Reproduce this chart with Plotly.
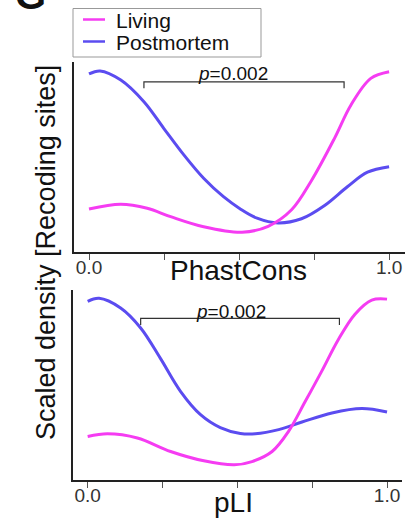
import plotly.graph_objects as go

# ---- data ----
phast_x_post = [0.0, 0.037, 0.106, 0.183, 0.249, 0.316, 0.382, 0.448, 0.503, 0.560, 0.630, 0.708, 0.785, 0.862, 0.928, 1.0]
phast_y_post = [0.937, 0.953, 0.905, 0.791, 0.651, 0.511, 0.388, 0.291, 0.228, 0.178, 0.153, 0.175, 0.245, 0.345, 0.420, 0.449]
phast_x_liv = [0.0, 0.106, 0.194, 0.272, 0.382, 0.510, 0.597, 0.675, 0.741, 0.818, 0.873, 0.939, 1.0]
phast_y_liv = [0.226, 0.251, 0.230, 0.186, 0.133, 0.104, 0.135, 0.222, 0.375, 0.598, 0.774, 0.914, 0.949]

pli_x_post = [0.0, 0.038, 0.110, 0.177, 0.243, 0.310, 0.377, 0.443, 0.510, 0.560, 0.638, 0.716, 0.816, 0.916, 1.0]
pli_y_post = [0.940, 0.956, 0.905, 0.800, 0.640, 0.467, 0.344, 0.276, 0.245, 0.243, 0.265, 0.305, 0.353, 0.376, 0.358]
pli_x_liv = [0.0, 0.066, 0.166, 0.277, 0.388, 0.490, 0.549, 0.616, 0.671, 0.727, 0.782, 0.838, 0.893, 0.949, 1.0]
pli_y_liv = [0.229, 0.243, 0.221, 0.150, 0.101, 0.080, 0.097, 0.150, 0.256, 0.414, 0.573, 0.741, 0.873, 0.947, 0.952]

tick_vals = [0, 0.25, 0.5, 0.75, 1.0]
tick_text = ["0.0", "", "", "", "1.0"]
series_names = ["Living", "Postmortem"]
p_label = "<i>p</i>=0.002"
x_titles = ["PhastCons", "pLI"]
y_title = "Scaled density [Recoding sites]"

C_LIV = "#F53CF2"
C_POST = "#5B4CF0"
FONT = "Arial, Liberation Sans, sans-serif"

W, H = 408, 519
def px(x):
    return x / W
def py(y):
    return 1 - y / H

fig = go.Figure()
line_post = dict(color=C_POST, width=3, shape="spline", smoothing=1.0)
line_liv = dict(color=C_LIV, width=3, shape="spline", smoothing=1.0)
fig.add_trace(go.Scatter(x=phast_x_post, y=phast_y_post, mode="lines", line=line_post, xaxis="x", yaxis="y", name=series_names[1]))
fig.add_trace(go.Scatter(x=phast_x_liv, y=phast_y_liv, mode="lines", line=line_liv, xaxis="x", yaxis="y", name=series_names[0]))
fig.add_trace(go.Scatter(x=pli_x_post, y=pli_y_post, mode="lines", line=line_post, xaxis="x2", yaxis="y2", name=series_names[1]))
fig.add_trace(go.Scatter(x=pli_x_liv, y=pli_y_liv, mode="lines", line=line_liv, xaxis="x2", yaxis="y2", name=series_names[0]))

xcommon = dict(tickvals=tick_vals, ticktext=tick_text, ticks="outside", ticklen=6, tickwidth=1,
               tickcolor="#555", showline=True, linecolor="#222", linewidth=1.5, showgrid=False,
               zeroline=False, ticklabelstandoff=-9,
               tickfont=dict(family=FONT, size=19, color="#333"))
ycommon = dict(showticklabels=False, ticks="", showline=True, linecolor="#222", linewidth=1.5,
               showgrid=False, zeroline=False, range=[0, 1])

fig.update_layout(
    width=W, height=H, margin=dict(l=0, r=0, t=0, b=0),
    paper_bgcolor="white", plot_bgcolor="white", showlegend=False,
    xaxis=dict(domain=[px(74), px(405)], range=[-0.05, 1.053], anchor="y", **xcommon),
    yaxis=dict(domain=[py(252), py(62)], anchor="x", **ycommon),
    xaxis2=dict(domain=[px(72.7), px(402)], range=[-0.05, 1.05], anchor="y2", **xcommon),
    yaxis2=dict(domain=[py(480), py(290)], anchor="x2", **ycommon),
)

# significance brackets
brackets = [("x", "y", 0.183, 0.85, 0.895, 0.862, 0.48, 0.937),
            ("x2", "y2", 0.177, 0.841, 0.851, 0.816, 0.48, 0.889)]
for xr, yr, x0, x1, yt, yb, tx, ty in brackets:
    fig.add_shape(type="path", xref=xr, yref=yr,
                  path=f"M {x0} {yb} L {x0} {yt} L {x1} {yt} L {x1} {yb}",
                  line=dict(color="#333", width=1.2))
    fig.add_annotation(xref=xr, yref=yr, x=tx, y=ty, text=p_label, showarrow=False,
                       font=dict(family=FONT, size=19, color="#111"), xanchor="center", yanchor="middle")

# axis titles
fig.add_annotation(xref="paper", yref="paper", x=px(238), y=py(270), text=x_titles[0], showarrow=False,
                   font=dict(family=FONT, size=28, color="#111"), xanchor="center", yanchor="middle")
fig.add_annotation(xref="paper", yref="paper", x=px(233), y=py(502), text=x_titles[1], showarrow=False,
                   font=dict(family=FONT, size=28, color="#111"), xanchor="center", yanchor="middle")
fig.add_annotation(xref="paper", yref="paper", x=px(46), y=py(253), text=y_title, showarrow=False,
                   textangle=-90, font=dict(family=FONT, size=27, color="#111"), xanchor="center", yanchor="middle")

# panel letter (cut at top, as in the reference)
fig.add_annotation(xref="paper", yref="paper", x=px(31), y=py(-5), text="<b>G</b>", showarrow=False,
                   font=dict(family=FONT, size=40, color="#111"), xanchor="center", yanchor="middle")

# legend box (manual)
fig.add_shape(type="rect", xref="paper", yref="paper", x0=px(73), x1=px(261), y0=py(57), y1=py(8.5),
              line=dict(color="#999", width=1), fillcolor="white")
for name, col, ly in [(series_names[0], C_LIV, 19.5), (series_names[1], C_POST, 41.5)]:
    fig.add_shape(type="line", xref="paper", yref="paper", x0=px(83), x1=px(105), y0=py(ly), y1=py(ly),
                  line=dict(color=col, width=2.5))
    fig.add_annotation(xref="paper", yref="paper", x=px(114), y=py(ly + 1), text=name, showarrow=False,
                       font=dict(family=FONT, size=21, color="#111"), xanchor="left", yanchor="middle")

fig.write_html("out.html")
